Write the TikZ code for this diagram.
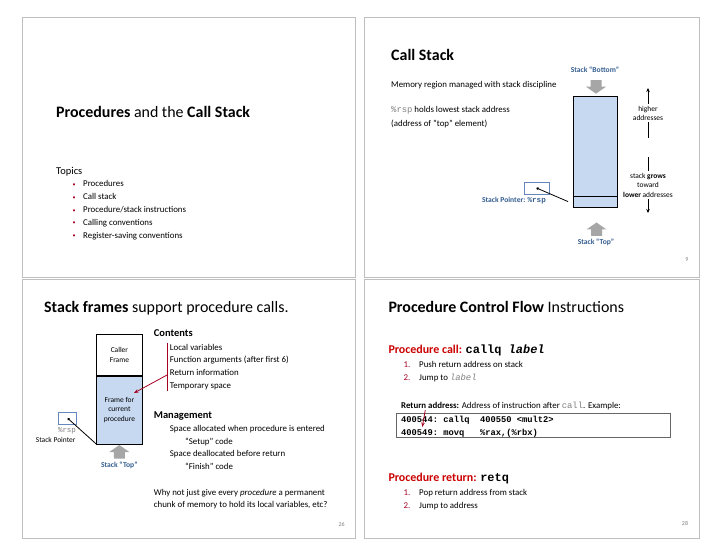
\documentclass[tikz,border=0pt]{standalone}
\usepackage{fontspec}
\setmainfont{Carlito}
\setmonofont{Liberation Mono}
\usepackage{tikz}
\usetikzlibrary{calc}
\usetikzlibrary{arrows.meta}

\definecolor{slideframe}{RGB}{191,191,191}
\definecolor{stackblue}{RGB}{198,217,241}
\definecolor{labelblue}{RGB}{54,95,145}
\definecolor{regblue}{RGB}{100,135,190}
\definecolor{callred}{RGB}{204,0,0}
\definecolor{darkred}{RGB}{165,0,33}
\definecolor{codegrey}{RGB}{128,128,128}
\definecolor{blockgrey}{RGB}{166,166,166}

\begin{document}
\begin{tikzpicture}[x=1bp,y=-1bp,
    txt/.style={inner sep=0pt, anchor=base west, font=\fontsize{8.9}{10}\selectfont},
    ttl/.style={inner sep=0pt, anchor=base west, font=\fontsize{16}{18}\selectfont},
    hdr/.style={inner sep=0pt, anchor=base west, font=\fontsize{12}{14}\selectfont\bfseries},
    lbl/.style={inner sep=0pt, anchor=base, font=\fontsize{7.6}{8}\selectfont\bfseries, text=labelblue},
    num/.style={inner sep=0pt, anchor=base, font=\fontsize{6}{7}\selectfont, text=codegrey},
    stackcell/.style={draw, line width=0.7, fill=stackblue, minimum width=45, inner sep=0pt, outer sep=0pt, anchor=north west, align=center, font=\fontsize{7.5}{10}\selectfont},
    regbox/.style={draw=regblue, line width=0.8, inner sep=0pt},
    ptrline/.style={line width=0.8, {Circle[length=2.5pt]}-},
    redarrow/.style={draw=darkred, line width=0.8, -{Stealth[length=4.5pt,width=3.5pt]}},
    growarrow/.style={line width=1, -{Stealth[length=4pt,width=3.5pt]}},
    pics/blockarrow/.style={code={
      \fill[blockgrey] (-5.5,-6.5) -- (5.5,-6.5) -- (5.5,0) -- (10,0) -- (0,7) -- (-10,0) -- (-5.5,0) -- cycle;}}]
\useasboundingbox[fill=white] (0,0) rectangle (720,557);

% slide frames
\foreach \sx/\sy/\ex/\ey in {22/17/355/277, 364/17/699/277, 22/279/355/538, 364/279/699/538}
  \draw[slideframe, line width=0.8] (\sx,\sy) rectangle (\ex,\ey);

% slide 1: title slide
\node[ttl] (title1) at (56,118) {\textbf{Procedures} and the \textbf{Call Stack}};
\node[txt, font=\fontsize{10.5}{12}\selectfont] (topics) at (56,175) {Topics};
\foreach \t [count=\i] in {Procedures, Call stack, {Procedure/stack instructions}, Calling conventions, Register-saving conventions}{
  \node[txt, text=darkred, font=\fontsize{6}{7}\selectfont] (bul\i) at (72.5,{186.5+12.8*(\i-1)}) {\textbullet};
  \node[txt] (topic\i) at (83,{187+12.8*(\i-1)}) {\t};
}

% slide 2: call stack
\node[ttl] (title2) at (391,61) {\textbf{Call Stack}};
\node[txt] (mem) at (391,88) {Memory region managed with stack discipline};
\node[txt] (holds) at (391,113) {\textcolor{codegrey}{\ttfamily\%rsp} holds lowest stack address};
\node[txt] (addr) at (391,127) {(address of "top" element)};

\node[lbl] (bot2) at (595,73) {Stack ``Bottom''};
\pic at (596,86.7) {blockarrow};
\node[stackcell, minimum height=112] (stk2) at (573,96) {};
\coordinate (divL) at ($(stk2.south west)+(0,-11)$);
\coordinate (divR) at ($(stk2.south east)+(0,-11)$);
\draw[line width=0.7] (divL) -- (divR);
\pic[rotate=180] at (596.5,229.5) {blockarrow};
\node[lbl] (topl2) at (596,245) {Stack ``Top''};

\coordinate (hiA) at (648,138);
\coordinate (hiB) at (648,88);
\coordinate (loA) at (648,157);
\coordinate (loB) at (648,213);
\draw[growarrow] (hiA) -- (hiB) node[midway, fill=white, inner sep=1.5pt, align=center, font=\fontsize{7.5}{9}\selectfont] (higher) {higher\\addresses};
\draw[growarrow] (loA) -- (loB) node[midway, fill=white, inner sep=1.5pt, align=center, font=\fontsize{7.5}{9.5}\selectfont] (grows) {stack \textbf{grows}\\toward\\\textbf{lower} addresses};

\node[regbox, minimum width=25, minimum height=12] (reg2) at (536.5,188) {};
\draw[ptrline] (reg2.center) -- ($(stk2.south west)+(-5,-6)$);
\node[lbl, anchor=base east] (sp2) at (546,203) {Stack Pointer: {\ttfamily\%rsp}};
\node[num] (n9) at (687,262) {9};

% slide 3: stack frames
\node[ttl] (title3) at (44,312) {\textbf{Stack frames} support procedure calls.};
\node[stackcell, fill=white, minimum width=46.4, minimum height=41.7] (caller3) at (96.3,334.3) {Caller\\Frame};
\node[stackcell, minimum width=46.4, minimum height=68.3] (cur3) at (96.3,376) {Frame for\\current\\procedure};
\pic[rotate=180] at (119.3,452) {blockarrow};
\node[lbl] (topl3) at (119.3,467) {Stack ``Top''};

\node[regbox, minimum width=18, minimum height=11.3] (reg3) at (67.7,418.3) {};
\node[txt, anchor=base, text=codegrey, font=\fontsize{7.5}{8}\ttfamily] (rsp3) at (67,432.7) {\%rsp};
\node[txt, anchor=base, font=\fontsize{7.5}{8}\selectfont] (sp3) at (55.7,442) {Stack Pointer};
\draw[ptrline] (reg3.center) -- (cur3.south west);

\node[txt, font=\fontsize{10.5}{12}\selectfont\bfseries] (contents) at (153.7,336) {Contents};
\coordinate (barTop) at (167,343);
\coordinate (barBot) at (167,391);
\coordinate (barMid) at (167,375);
\coordinate (frameTip) at (134,393);
\draw[darkred, line width=0.8] (barTop) -- (barBot);
\draw[redarrow] (barMid) -- (frameTip);
\foreach \t [count=\i] in {Local variables, Function arguments (after first 6), Return information, Temporary space}
  \node[txt] (cont\i) at (169.7,{350+12.75*(\i-1)}) {\t};

\node[txt, font=\fontsize{10.5}{12}\selectfont\bfseries] (manage) at (153.7,418.3) {Management};
\node[txt] (alloc) at (169.7,431.7) {Space allocated when procedure is entered};
\node[txt] (setup) at (185,444.3) {``Setup'' code};
\node[txt] (dealloc) at (169.7,456.7) {Space deallocated before return};
\node[txt] (finish) at (185,469.3) {``Finish'' code};
\node[txt] (why1) at (153.7,495) {Why not just give every \textit{procedure} a permanent};
\node[txt] (why2) at (153.7,507.3) {chunk of memory to hold its local variables, etc?};
\node[num] (n26) at (341.7,526.7) {26};

% slide 4: control flow
\node[ttl] (title4) at (388.3,312.3) {\textbf{Procedure Control Flow} Instructions};
\node[hdr] (callhdr) at (388.3,353.3) {\textcolor{callred}{Procedure call:} {\ttfamily callq \itshape label}};
\node[txt, text=darkred] (c1n) at (403.3,367.7) {1.};
\node[txt] (c1) at (419,367.7) {Push return address on stack};
\node[txt, text=darkred] (c2n) at (403.3,380.7) {2.};
\node[txt] (c2) at (419,380.7) {Jump to \textcolor{codegrey}{\ttfamily\itshape label}};

\node[txt] (retaddr) at (401,408.3) {\textbf{Return address:} Address of instruction after \textcolor{codegrey}{\ttfamily call}. Example:};
\node[draw=codegrey!80!black, line width=0.8, minimum width=275, minimum height=23.7, anchor=north west, inner sep=0pt] (codebox) at (395.7,413.3) {};
\node[txt, font=\fontsize{8.8}{10}\ttfamily\bfseries] (code1) at (401,422) {400544:\ callq\ \ 400550\ <mult2>};
\node[txt, font=\fontsize{8.8}{10}\ttfamily\bfseries] (code2) at (401,435) {400549:\ movq\ \ \ \%rax,(\%rbx)};
\coordinate (raStart) at (425.3,410);
\coordinate (raEnd) at (422.3,427);
\draw[redarrow] (raStart) -- (raEnd);

\node[hdr] (rethdr) at (388.3,481.7) {\textcolor{callred}{Procedure return:} {\ttfamily retq}};
\node[txt, text=darkred] (r1n) at (403.3,495.7) {1.};
\node[txt] (r1) at (419,495.7) {Pop return address from stack};
\node[txt, text=darkred] (r2n) at (403.3,508.3) {2.};
\node[txt] (r2) at (419,508.3) {Jump to address};
\node[num] (n28) at (685,525.7) {28};
\end{tikzpicture}
\end{document}
